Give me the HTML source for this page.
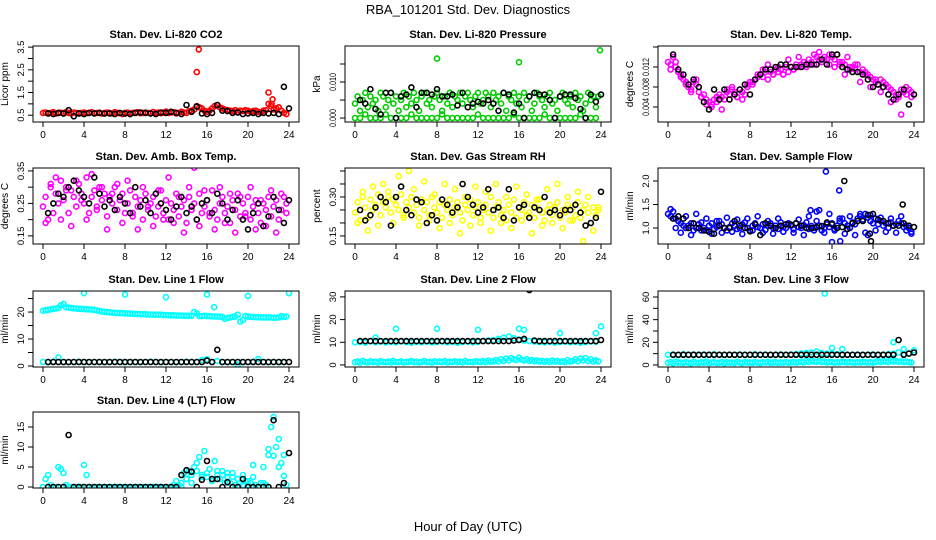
<!DOCTYPE html>
<html><head><meta charset="utf-8"><style>
html,body{margin:0;padding:0;background:#fff;}
svg{display:block;font-family:"Liberation Sans",Arial,sans-serif;}
</style></head><body>
<svg id="chart" width="936" height="540" viewBox="0 0 936 540">
<text x="468" y="14" text-anchor="middle" font-size="13">RBA_101201  Std. Dev. Diagnostics</text>
<text x="468" y="531" text-anchor="middle" font-size="13">Hour of Day (UTC)</text>
</svg>
<script>
const xTicks=[0,4,8,12,16,20,24];
const co2C=[0.6,0.62,0.58,0.6,0.63,0.57,0.6,0.61,0.59,0.64,0.6,0.58,0.62,0.6,0.57,0.6,0.62,0.59,0.6,0.63,0.58,0.6,0.61,0.57,0.6,0.62,0.6,0.58,0.63,0.6,0.59,0.55,0.6,0.62,0.58,0.6,0.61,0.63,0.59,0.6,0.62,0.6,0.58,0.64,0.6,0.62,0.59,0.61,0.66,0.6,0.62,0.63,0.58,0.6,0.65,0.62,0.6,0.68,0.7,0.75,0.9,0.85,0.8,0.7,0.65,0.7,0.8,0.9,0.95,0.85,0.8,0.75,0.72,0.7,0.68,0.72,0.65,0.7,0.68,0.72,0.7,0.65,0.68,0.7,0.65,0.62,0.7,0.72,1.0,0.9,0.75,0.8,0.85,0.7,0.6,0.55];
const co2K=[0.58,0.55,0.6,0.57,0.72,0.45,0.58,0.55,0.6,0.58,0.6,0.57,0.58,0.55,0.6,0.57,0.55,0.6,0.62,0.6,0.58,0.55,0.62,0.6,0.65,0.6,0.55,0.95,0.65,0.88,0.58,0.55,0.6,0.95,0.7,0.68,0.6,0.62,0.55,0.58,0.6,0.55,0.6,0.58,0.6,0.55,1.75,0.8];
const co2Out=[[15,2.4],[15.2,3.4],[22,1.5],[22.4,1.2],[22.3,1.0]];
const presC=[0.004,0.006,0.002,0.005,0.007,0.003,0.006,0.004,0.005,0.002,0.007,0.006,0.003,0.005,0.007,0.004,0.006,0.002,0.005,0.007,0.003,0.006,0.004,0.007,0.005,0.002,0.006,0.007,0.004,0.005,0.003,0.006,0.007,0.005,0.002,0.006,0.004,0.007,0.003,0.006,0.005,0.007,0.004,0.006,0.007,0.005,0.003,0.006,0.007,0.004,0.005,0.007,0.006,0.003,0.007,0.005,0.006,0.004,0.007,0.002,0.006,0.005,0.007,0.004,0.006,0.003,0.007,0.005,0.006,0.002,0.004,0.007,0.006,0.005,0.003,0.006,0.007,0.004,0.005,0.002,0.006,0.007,0.005,0.004,0.006,0.003,0.007,0.005,0.006,0.002,0.004,0.007,0.005,0.006,0.003,0.006];
const presLow=[0,0,0.001,0,0,0,0.001,0,0,0,0,0.001,0,0,0,0,0,0.001,0,0,0,0,0,0,0.001,0,0,0,0,0,0,0.001,0,0,0,0,0,0.001,0,0,0,0,0,0,0.001,0,0,0];
const presK=[0.005,0.004,0.008,0.0025,0.001,0.007,0.007,0,0.006,0.0065,0.0085,0.003,0.007,0.007,0.0065,0.008,0.006,0.006,0.0065,0.0035,0.007,0.003,0.004,0.0045,0.004,0.005,0.004,0.002,0.007,0.0065,0.0015,0.004,0,0.006,0.007,0.0065,0.0065,0.005,0,0.006,0.0065,0.0065,0.0055,0.0025,0,0.0065,0.0045,0.0065];
const presOut=[[8,0.0165],[16,0.0155],[23.9,0.0188]];
const tempC=[0.013,0.0125,0.014,0.012,0.011,0.010,0.0095,0.009,0.008,0.0075,0.009,0.0085,0.007,0.006,0.0065,0.0055,0.005,0.0045,0.0055,0.006,0.0065,0.006,0.0055,0.007,0.0065,0.0075,0.007,0.006,0.0075,0.007,0.0065,0.008,0.009,0.0085,0.0095,0.010,0.0105,0.010,0.011,0.0095,0.011,0.0105,0.0115,0.011,0.0115,0.0105,0.012,0.011,0.012,0.0115,0.0125,0.012,0.0125,0.013,0.012,0.0135,0.013,0.0125,0.014,0.0135,0.013,0.014,0.0135,0.0125,0.014,0.0135,0.0145,0.013,0.013,0.0125,0.014,0.012,0.012,0.0115,0.0125,0.011,0.0115,0.011,0.0105,0.010,0.0095,0.009,0.0085,0.0095,0.009,0.0085,0.008,0.0075,0.007,0.0065,0.006,0.0075,0.007,0.0065,0.0075,0.007];
const tempC2=[0.0115,0.013,0.0105,0.0085,0.007,0.0095,0.006,0.0045,0.004,0.005,0.0035,0.0075,0.008,0.006,0.0055,0.0085,0.009,0.0105,0.0115,0.0125,0.0105,0.012,0.0105,0.0135,0.0115,0.014,0.013,0.0125,0.0145,0.015,0.0135,0.0145,0.012,0.0125,0.0105,0.0115,0.0125,0.009,0.0105,0.008,0.0095,0.007,0.0085,0.005,0.0055,0.0025,0.008,0.006];
const tempK=[0.0145,0.0115,0.0105,0.0085,0.0095,0.008,0.005,0.0035,0.0075,0.0055,0.0075,0.0055,0.0065,0.0075,0.0085,0.0065,0.0095,0.0105,0.0115,0.0115,0.012,0.0125,0.0125,0.012,0.012,0.012,0.0125,0.0125,0.0125,0.0135,0.0125,0.0145,0.0145,0.012,0.0115,0.011,0.011,0.0105,0.0095,0.008,0.0085,0.008,0.0065,0.0055,0.0065,0.0075,0.0045,0.0065];
const ambC=[0.24,0.27,0.2,0.3,0.22,0.28,0.25,0.32,0.26,0.3,0.22,0.29,0.27,0.24,0.31,0.28,0.25,0.33,0.22,0.27,0.29,0.24,0.3,0.26,0.28,0.21,0.27,0.25,0.3,0.23,0.26,0.28,0.22,0.25,0.29,0.21,0.27,0.24,0.26,0.2,0.28,0.23,0.25,0.27,0.21,0.24,0.29,0.22,0.26,0.2,0.25,0.23,0.28,0.21,0.24,0.26,0.19,0.27,0.23,0.25,0.2,0.28,0.22,0.24,0.26,0.21,0.29,0.23,0.2,0.25,0.27,0.22,0.24,0.19,0.26,0.23,0.28,0.21,0.25,0.22,0.27,0.2,0.24,0.26,0.22,0.19,0.25,0.23,0.27,0.21,0.24,0.26,0.2,0.23,0.27,0.25];
const ambC2=[0.19,0.31,0.33,0.2,0.29,0.18,0.32,0.26,0.2,0.34,0.23,0.3,0.17,0.28,0.31,0.19,0.32,0.22,0.17,0.3,0.24,0.18,0.29,0.2,0.33,0.19,0.27,0.16,0.3,0.36,0.18,0.29,0.22,0.17,0.3,0.19,0.28,0.16,0.27,0.21,0.3,0.17,0.26,0.18,0.29,0.16,0.28,0.22];
const ambK=[0.22,0.25,0.28,0.27,0.3,0.32,0.29,0.27,0.25,0.33,0.28,0.24,0.26,0.23,0.27,0.25,0.22,0.3,0.24,0.26,0.22,0.28,0.25,0.23,0.2,0.24,0.27,0.22,0.24,0.2,0.25,0.26,0.22,0.28,0.25,0.2,0.23,0.26,0.2,0.17,0.22,0.25,0.18,0.21,0.27,0.23,0.19,0.26];
const rhC=[0.24,0.28,0.21,0.3,0.26,0.22,0.29,0.25,0.27,0.31,0.23,0.28,0.26,0.32,0.24,0.29,0.27,0.25,0.31,0.23,0.28,0.26,0.3,0.24,0.27,0.22,0.29,0.25,0.28,0.23,0.3,0.26,0.24,0.28,0.22,0.27,0.25,0.29,0.23,0.26,0.28,0.24,0.21,0.27,0.25,0.29,0.23,0.26,0.28,0.22,0.25,0.27,0.24,0.3,0.22,0.26,0.28,0.23,0.25,0.21,0.27,0.24,0.29,0.22,0.26,0.25,0.28,0.23,0.24,0.27,0.22,0.26,0.29,0.24,0.21,0.25,0.27,0.23,0.26,0.28,0.22,0.25,0.24,0.27,0.21,0.26,0.23,0.28,0.22,0.25,0.27,0.24,0.2,0.26,0.23,0.25];
const rhC2=[0.2,0.32,0.17,0.34,0.19,0.35,0.3,0.2,0.38,0.22,0.4,0.33,0.19,0.36,0.21,0.31,0.18,0.35,0.2,0.33,0.16,0.3,0.19,0.34,0.2,0.32,0.17,0.35,0.2,0.3,0.18,0.34,0.21,0.31,0.16,0.29,0.19,0.33,0.2,0.35,0.18,0.3,0.21,0.32,0.13,0.3,0.17,0.26];
const rhK=[0.25,0.21,0.23,0.26,0.3,0.28,0.19,0.3,0.34,0.25,0.23,0.29,0.28,0.2,0.23,0.21,0.29,0.27,0.24,0.26,0.35,0.3,0.27,0.24,0.26,0.33,0.25,0.26,0.22,0.33,0.21,0.26,0.27,0.22,0.26,0.25,0.3,0.24,0.25,0.23,0.25,0.25,0.27,0.24,0.19,0.2,0.22,0.32];
const flowC=[1.3,1.25,1.35,1.2,1.15,1.1,1.05,1.0,1.05,1.1,0.95,1.0,1.08,1.12,1.0,0.95,1.05,1.1,0.98,1.02,1.15,1.08,1.0,0.95,1.02,1.1,1.05,0.98,1.0,1.08,1.12,1.0,0.95,1.05,1.1,1.02,1.0,1.08,0.96,1.04,1.1,1.0,1.05,0.98,1.12,1.02,1.0,1.08,1.05,0.97,1.1,1.02,1.0,1.06,1.12,0.98,1.04,1.0,1.15,1.05,0.95,1.0,1.08,1.02,1.1,0.98,1.05,1.15,1.2,1.1,1.05,1.0,1.12,1.08,1.2,1.25,1.18,1.3,1.22,1.15,1.1,1.2,1.08,1.15,1.05,1.1,1.0,1.12,1.05,1.08,1.15,1.1,1.02,1.05,1.0,0.92];
const flowC2=[1.4,1.0,0.9,1.25,0.85,1.3,0.95,1.2,0.88,1.15,0.9,1.22,0.92,1.18,0.87,1.2,0.95,1.25,0.9,1.15,0.88,1.2,0.92,1.1,0.9,1.18,0.85,1.25,0.95,1.38,0.9,1.3,0.95,1.2,0.88,1.25,0.85,1.3,0.9,1.28,0.95,1.22,0.92,1.2,0.9,1.25,0.95,0.88];
const flowK=[1.2,1.25,1.2,1.0,1.1,1.0,0.95,0.92,0.88,1.05,1.0,1.0,1.15,1.05,1.0,0.93,1.08,0.85,1.1,1.05,1.0,1.05,1.08,1.07,1.1,1.05,1.0,1.0,1.02,1.04,1.12,1.08,1.0,1.02,0.98,1.1,1.15,1.15,1.28,1.3,1.18,1.15,1.1,1.05,1.05,1.1,1.05,1.02];
const flowOut=[[15.4,2.2],[16.7,1.8],[16,0.7],[16.8,0.72],[19.5,0.85],[13.9,1.38],[14.5,1.35]];
const flowKOut=[[17.2,2.0],[22.9,1.5],[19.8,0.72],[19.7,0.88]];
const l1C=[20.5,20.7,20.8,21,21.2,21.3,21.5,22.5,23,21.8,21.6,21.5,21.4,21.3,21.2,21.2,21.1,21,21,20.9,20.8,20.6,20.4,20.2,20.1,20,19.9,19.8,19.7,19.7,19.6,19.6,19.5,19.5,19.4,19.4,19.3,19.3,19.2,19.2,19.2,19.1,19.1,19,19,19,19,18.9,18.9,18.8,18.8,18.8,18.7,18.7,18.7,18.6,18.6,18.6,18.6,20,19.5,18.5,18.5,18.6,18.5,18.5,18.4,18.4,18.3,18.3,18.2,17.5,17.8,18,18.2,18.4,19,16.5,17,18.5,18.3,18.2,18.2,18.1,18.1,18,18,18,18,18,17.9,17.9,18,18.5,18.2,18.3];
const l1Low=[1.5,1.4,1.6,3.2,1.5,1.4,1.5,1.6,1.5,1.4,1.5,1.5,1.4,1.5,1.6,1.5,1.4,1.5,1.5,1.4,1.5,1.6,1.5,1.4,1.5,1.5,1.4,1.5,1.6,1.5,1.5,2.2,2.5,1.5,1.8,1.5,1.4,1.5,0.5,1.4,1.5,1.6,2.6,1.5,1.4,1.5,1.4,1.5];
const l1K=[1.5,1.5,1.5,1.5,1.5,1.5,1.5,1.5,1.5,1.5,1.5,1.5,1.5,1.5,1.5,1.5,1.5,1.5,1.5,1.5,1.5,1.5,1.5,1.5,1.5,1.5,1.5,1.5,1.5,1.5,1.5,2,1.5,6,1.5,1.5,1.5,1.5,1.5,1.5,1.5,1.5,1.5,1.5,1.5,1.5,1.5,1.5];
const l1Out=[[4,27],[8,26.5],[12,25.5],[16,26.5],[16.7,21.8],[20,26],[24,27]];
const l2C=[1.2,1.5,1,1.8,1.3,1.1,1.6,1.2,1.4,1,1.7,1.3,1.2,1.5,1.1,1.8,1.3,1.2,1.6,1.1,1.4,1.3,1.7,1.2,1.5,1.1,1.3,1.8,1.2,1.4,1,1.6,1.3,1.5,1.2,1.7,1.1,1.4,1.3,1.6,1.2,1.5,1.1,1.8,1.3,1.4,1.2,1.6,1.5,1.3,1.7,1.2,1.9,1.4,1.6,2.2,1.5,2.5,1.8,2.8,2,3,2.5,2.2,3.2,2.4,2,2.6,1.8,2.2,1.6,2,1.5,1.8,1.4,1.7,1.3,2,1.5,1.8,1.4,1.6,1.2,2.2,1.5,1.8,2.5,1.6,2.8,2,3,1.8,2.5,1.5,2,1.6];
const l2Up=[10,10.2,9.8,10.5,10,10.3,9.9,10.2,10,10.4,10.1,9.8,10.2,10,10.3,9.9,10.1,10.4,10,10.2,9.8,10.1,10.3,10,10.2,10.5,10.8,11,11.5,12,12.5,11.8,11.2,10.8,10.5,10.3,10.1,10,10.2,9.9,10.1,10.3,10,10.2,9.8,10.1,10.4,10.2];
const l2K=[10.5,10.5,10.5,10.5,10.5,10.5,10.5,10.5,10.5,10.5,10.5,10.5,10.5,10.5,10.5,10.5,10.5,10.5,10.5,10.5,10.5,10.5,10.5,10.5,10.5,10.5,10.5,10.5,10.5,10.5,10.8,11,11.5,33,10.8,10.5,10.5,10.5,10.5,10.5,10.5,10.5,10.5,10.5,10.5,10.5,10.5,11];
const l2Out=[[2,12],[4,16],[8,16],[12,15.5],[16,16],[16.5,15.5],[20,14],[23.5,14],[24,17]];
const l3C=[2,2.5,1.5,3,2,2.2,1.8,2.6,2,1.5,2.8,2.2,1.8,2.4,2,3,1.6,2.2,2.5,1.8,2,2.6,1.5,2.4,2,2.2,1.8,2.8,2.1,1.6,2.5,2,2.3,1.8,2.6,2,1.7,2.4,2.1,2.8,1.9,2.2,2.5,1.8,2.3,2,2.6,1.9,2.2,2.7,2,2.5,3,2.2,3.5,2.6,4,3,2.8,3.5,2.5,3,2.2,2.8,2.4,2,2.6,2.2,3,2.5,2.1,2.7,2.3,2,2.6,2.2,2.8,2.4,2.1,2.5,2,2.8,3.2,2.5,3.5,3,2.6,4,3,3.5,2.8,3.2,2.5,3,2.4,2.2];
const l3Up=[9,9.2,8.8,9.5,9,9.3,8.9,9.2,9,9.4,9.1,8.8,9.2,9,9.3,8.9,9.1,9.4,9,9.2,8.8,9.1,9.3,9,9.2,9.5,10,10.5,11,12,10.5,10,9.8,9.5,9.3,9.1,9,9.2,8.9,9.1,9.3,9,9.2,9.5,10,11,9.5,10];
const l3K=[9,9,9,9,9,9,9,9,9,9,9,9,9,9,9,9,9,9,9,9,9,9,9,9,9,9,9,9,9,9,9,9,9,9,9,9,9,9,9,9,9,9,9,9,22,9,10,11];
const l3Out=[[15.3,63],[22,20],[23,14],[16,15],[17,14],[24,13]];
const l4C=[0,2,3,0.5,0,0,5,4.5,3.5,0.5,0,0,0,0,0,0,5.5,3,0,0,0,0,0,0,0,0,0,0,0,0,0,0,0,0,0,0,0,0,0,0,0,0,0,0,0,0,0,0,0,0,0,0.5,1.5,0.5,1,3.5,2,4,1,5,6,7.5,3,9,2.5,4.5,1.5,6.5,3,2,4,1,3.5,1,2.5,0.5,2,1,0.5,1.5,0.5,1,5.5,0.5,0,1,5,0.5,9.5,15,17.5,10,12,6,8,0.5];
const l4C2=[0,0,0,0,0,0,0,0,0,0,0,0,0,0,0,0,0,0,0,0,0,0,0,0,0,0,0,0,2,3,4,2.5,3.5,2,4,3,2.5,3.5,2,3,1.5,2.5,0,1,8,7.8,5,2.8];
const l4K=[0,0,0,0,13,0,0,0,0,0,0,0,0,0,0,0,0,0,0,0,0,0,0,0,0,0,3,4.2,3.8,0,1.8,6.5,2,2,0,1.2,0,0,2,0,0,0,0,0,16.7,0,1,8.5];

const cols=[43,355,668], tops=[46,168,291,412], H=76, PXH=10.25;
const panels=[
 {c:0,r:0,title:"Stan. Dev. Li-820 CO2",yl:"Licor ppm",y0:0.2,y1:3.55,ticks:[0.5,1,1.5,2,2.5,3,3.5],labs:[0.5,1.5,2.5,3.5],dig:1,col:"#ff0000",
  series:[[co2C,0.25,0],[co2K,0.5,0.5,'k']],out:[[co2Out,'c']]},
 {c:1,r:0,title:"Stan. Dev. Li-820 Pressure",yl:"kPa",y0:-0.0011,y1:0.0200,ticks:[0,0.005,0.01,0.015],labs:[0,0.01],dig:3,col:"#00cd00",
  series:[[presLow,0.5,0],[presC,0.25,0],[presK,0.5,0.5,'k']],out:[[presOut,'c']]},
 {c:2,r:0,title:"Stan. Dev. Li-820 Temp.",yl:"degrees C",y0:0.001,y1:0.0162,ticks:[0.004,0.008,0.012,0.016],labs:[0.004,0.008,0.012],dig:3,col:"#ff00ff",
  series:[[tempC,0.25,0],[tempC2,0.5,0.25],[tempK,0.5,0.5,'k']],out:[]},
 {c:0,r:1,title:"Stan. Dev. Amb. Box Temp.",yl:"degrees C",y0:0.125,y1:0.359,ticks:[0.15,0.2,0.25,0.3,0.35],labs:[0.15,0.25,0.35],dig:2,col:"#ff00ff",
  series:[[ambC,0.25,0],[ambC2,0.5,0.25],[ambK,0.5,0.5,'k']],out:[]},
 {c:1,r:1,title:"Stan. Dev. Gas Stream RH",yl:"percent",y0:0.119,y1:0.4115,ticks:[0.15,0.2,0.25,0.3,0.35,0.4],labs:[0.15,0.3],dig:2,col:"#ffff00",
  series:[[rhC,0.25,0],[rhC2,0.5,0.25],[rhK,0.5,0.5,'k']],out:[]},
 {c:2,r:1,title:"Stan. Dev. Sample Flow",yl:"ml/min",y0:0.66,y1:2.277,ticks:[1,1.5,2],labs:[1,1.5,2],dig:1,col:"#0000ff",
  series:[[flowC,0.25,0],[flowC2,0.5,0.25],[flowK,0.5,0.5,'k']],out:[[flowOut,'c'],[flowKOut,'k']]},
 {c:0,r:2,title:"Stan. Dev. Line 1 Flow",yl:"ml/min",y0:-0.37,y1:27.8,ticks:[0,5,10,15,20,25],labs:[0,10,20],dig:0,col:"#00ffff",
  series:[[l1C,0.25,0],[l1Low,0.5,0],[l1K,0.5,0.5,'k']],out:[[l1Out,'c']]},
 {c:1,r:2,title:"Stan. Dev. Line 2 Flow",yl:"ml/min",y0:-0.9,y1:32.6,ticks:[0,10,20,30],labs:[0,10,20,30],dig:0,col:"#00ffff",
  series:[[l2C,0.25,0],[l2Up,0.5,0],[l2K,0.5,0.5,'k']],out:[[l2Out,'c']]},
 {c:2,r:2,title:"Stan. Dev. Line 3 Flow",yl:"ml/min",y0:-1.8,y1:65.3,ticks:[0,10,20,30,40,50,60],labs:[0,20,40,60],dig:0,col:"#00ffff",
  series:[[l3C,0.25,0],[l3Up,0.5,0],[l3K,0.5,0.5,'k']],out:[[l3Out,'c']]},
 {c:0,r:3,title:"Stan. Dev. Line 4 (LT) Flow",yl:"ml/min",y0:-0.25,y1:18.75,ticks:[0,5,10,15],labs:[0,5,10,15],dig:0,col:"#00ffff",
  series:[[l4C,0.25,0],[l4C2,0.5,0],[l4K,0.5,0.5,'k']],out:[]}
];
const svg=document.getElementById('chart');
const NS="http://www.w3.org/2000/svg";
function mk(tag,attrs,parent){const e=document.createElementNS(NS,tag);for(const k in attrs)e.setAttribute(k,attrs[k]);(parent||svg).appendChild(e);return e;}
panels.forEach((p,pi)=>{
  const x0=cols[p.c], top=tops[p.r], bot=top+H;
  const xs=t=>x0+t*PXH;
  const ys=v=>top+(p.y1-v)/(p.y1-p.y0)*H;
  const g=mk('g',{});
  
  
  const clip=mk('clipPath',{id:'cp'+pi},g);
  mk('rect',{x:x0-10,y:top,width:266,height:H},clip);
  const t=mk('text',{x:x0+123,y:top-8,'text-anchor':'middle','font-size':'11','font-weight':'bold'},g);
  t.textContent=p.title;
  
  
  const marks=mk('g',{'clip-path':'url(#cp'+pi+')'},g);
  const drawPt=(tt,v,color)=>{const c=mk('circle',{cx:xs(tt).toFixed(1),cy:ys(v).toFixed(1),r:2.5,fill:'none',stroke:color,'stroke-width':1.6},marks);
    
    };
  const order=[...p.series.filter(s=>s[3]!=='k'),...p.series.filter(s=>s[3]==='k')];
  p.out.filter(o=>o[1]==='c').forEach(o=>o[0].forEach(d=>drawPt(d[0],d[1],p.col)));
  order.forEach(s=>{const color=s[3]==='k'?'#000':p.col;s[0].forEach((v,i)=>drawPt(s[2]+i*s[1],v,color));});
  p.out.filter(o=>o[1]==='k').forEach(o=>o[0].forEach(d=>drawPt(d[0],d[1],'#000')));
  const box=mk('rect',{x:x0-10,y:top,width:266,height:H,fill:'none',stroke:'#000','stroke-width':1},g);
  
  
  mk('line',{x1:xs(0),x2:xs(24),y1:bot,y2:bot,stroke:'#000'},g);
  xTicks.forEach(v=>{mk('line',{x1:xs(v),x2:xs(v),y1:bot,y2:bot+5,stroke:'#000'},g);
    const l=mk('text',{x:xs(v),y:bot+16,'text-anchor':'middle','font-size':'10'},g);l.textContent=v;
    
    });
  const yt=p.ticks;
  mk('line',{x1:x0-10,x2:x0-10,y1:ys(yt[0]),y2:ys(yt[yt.length-1]),stroke:'#000'},g);
  yt.forEach(v=>{mk('line',{x1:x0-15,x2:x0-10,y1:ys(v),y2:ys(v),stroke:'#000'},g);});
  p.labs.forEach(v=>{const yy=ys(v);const txt=v.toFixed(p.dig);
    const attrs={x:x0-19,y:yy,'text-anchor':'middle','font-size':'9.5',transform:`rotate(-90 ${x0-19} ${yy})`};
    if(txt.length>=5){attrs.textLength=18;attrs.lengthAdjust='spacingAndGlyphs';}
    const l=mk('text',attrs,g);
    l.textContent=txt;
    
    });
  const ym=(top+bot)/2;
  const yl=mk('text',{x:x0-35,y:ym,'text-anchor':'middle','font-size':'10',transform:`rotate(-90 ${x0-35} ${ym})`},g);
  yl.textContent=p.yl;
  
  
});
</script>
</body></html>
